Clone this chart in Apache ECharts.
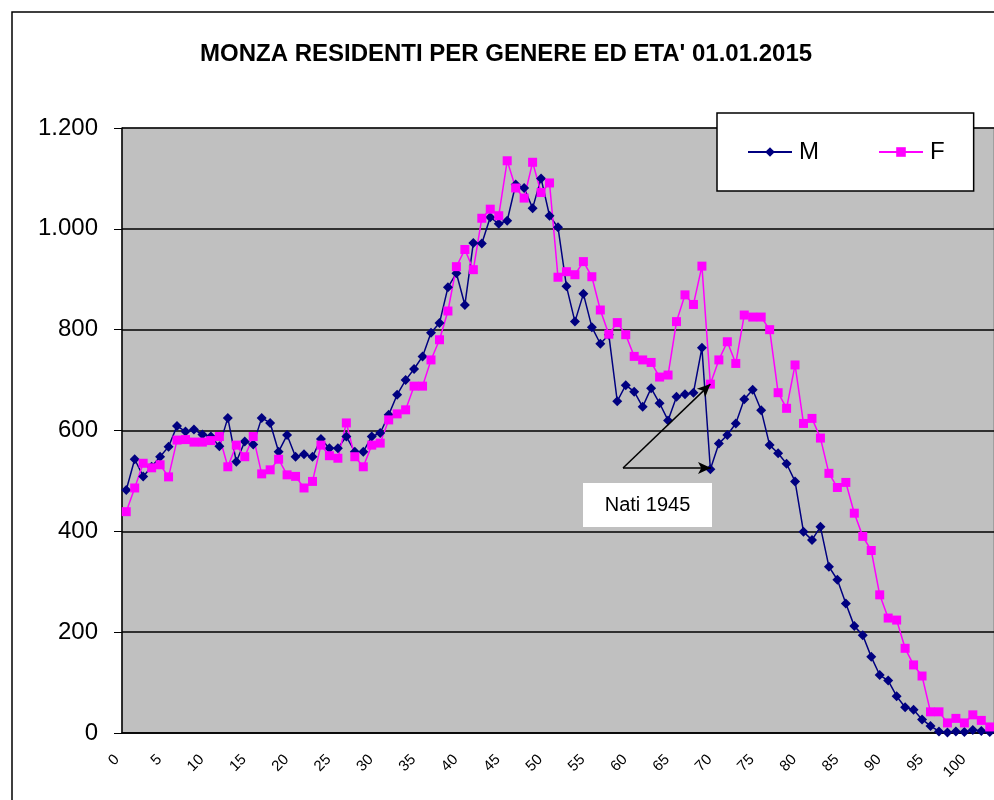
<!DOCTYPE html>
<html>
<head>
<meta charset="utf-8">
<script src="https://cdn.jsdelivr.net/npm/echarts@6/dist/echarts.min.js"></script>
<style>
  html, body { margin: 0; padding: 0; background: #fff; }
  #chart { width: 994px; height: 800px; }
</style>
</head>
<body>
<div id="chart"></div>
<script>
// eta' 0..102
const ages = [];
for (let i = 0; i <= 102; i++) ages.push(String(i));

const maschi = [482, 543, 509, 528, 548, 568, 609, 598, 602, 592,
  588, 569, 625, 538, 578, 572, 625, 615, 558, 591,
  548, 553, 548, 583, 565, 565, 588, 558, 558, 588,
  595, 631, 671, 700, 722, 747, 794, 813, 884, 912,
  849, 972, 971, 1023, 1010, 1016, 1088, 1081, 1041, 1100,
  1026, 1003, 886, 816, 871, 805, 772, 790, 658, 690,
  677, 647, 684, 654, 620, 667, 672, 675, 764, 523,
  574, 591, 614, 662, 681, 640, 571, 555, 534, 499,
  399, 383, 409, 330, 304, 257, 212, 194, 151, 115,
  104, 73, 51, 46, 27, 14, 3, 1, 3, 2,
  6, 4, 2];

const femmine = [439, 486, 535, 526, 532, 508, 581, 582, 577, 577,
  580, 588, 528, 571, 548, 588, 514, 522, 543, 512,
  509, 486, 499, 571, 550, 545, 615, 548, 528, 571,
  575, 621, 633, 641, 688, 688, 740, 780, 837, 925,
  959, 919, 1021, 1039, 1026, 1135, 1081, 1061, 1132, 1072,
  1091, 904, 915, 909, 935, 905, 839, 791, 814, 790,
  747, 740, 735, 706, 710, 816, 869, 850, 926, 692,
  740, 776, 733, 829, 825, 825, 800, 675, 644, 730,
  614, 624, 585, 515, 487, 497, 436, 390, 362, 274,
  228, 224, 168, 135, 113, 42, 42, 20, 29, 20,
  36, 25, 12];

const nati1945 = '69';
const font = 'Liberation Sans, Arial, sans-serif';

function fmtIt(v) {
  return String(v).replace(/\B(?=(\d{3})+(?!\d))/g, '.');
}

const chart = echarts.init(document.getElementById('chart'));
chart.setOption({
  animation: false,
  backgroundColor: '#fff',
  title: {
    text: "MONZA RESIDENTI PER GENERE ED ETA' 01.01.2015",
    left: 195,
    top: 37,
    textStyle: { fontFamily: font, fontSize: 24, fontWeight: 'bold', color: '#000' }
  },
  legend: {
    left: 717,
    top: 113,
    padding: [27, 29, 27, 30],
    itemGap: 59,
    itemWidth: 44,
    itemHeight: 12,
    backgroundColor: '#fff',
    borderColor: '#000',
    borderWidth: 1.5,
    textStyle: { fontFamily: font, fontSize: 24, color: '#000', padding: [0, 0, 0, 2] },
    data: ['M', 'F']
  },
  grid: {
    left: 122,
    top: 128,
    width: 888,
    height: 605,
    show: true,
    backgroundColor: '#c0c0c0',
    borderColor: '#808080',
    borderWidth: 1
  },
  xAxis: {
    type: 'category',
    data: ages,
    boundaryGap: true,
    axisLine: { lineStyle: { color: '#000', width: 1.5 } },
    axisTick: { interval: 0, length: 5, lineStyle: { color: '#000' } },
    axisLabel: {
      interval: 4,
      rotate: 45,
      margin: 15,
      padding: [0, 13, 0, 0],
      fontFamily: font,
      fontSize: 15,
      color: '#000'
    },
    splitLine: { show: false }
  },
  yAxis: {
    type: 'value',
    min: 0,
    max: 1200,
    interval: 200,
    axisLine: { show: true, lineStyle: { color: '#000', width: 1.5 } },
    axisTick: { show: true, length: 8, lineStyle: { color: '#000' } },
    axisLabel: {
      margin: 24,
      fontFamily: font,
      fontSize: 24,
      color: '#000',
      formatter: fmtIt
    },
    splitLine: { lineStyle: { color: '#000', width: 1.5 } }
  },
  series: [
    {
      name: 'M',
      type: 'line',
      data: maschi,
      symbol: 'diamond',
      symbolSize: 10,
      showAllSymbol: true,
      itemStyle: { color: '#000080' },
      lineStyle: { color: '#000080', width: 1.5 },
      markLine: {
        silent: true,
        symbol: ['none', 'arrow'],
        symbolSize: [9, 13],
        label: { show: false },
        lineStyle: { color: '#000', width: 1.5, type: 'solid' },
        data: [
          [{ x: 623, y: 468 }, { x: 711, y: 468 }],
          [{ x: 623, y: 468 }, { coord: [nati1945, femmine[69]] }]
        ]
      }
    },
    {
      name: 'F',
      type: 'line',
      data: femmine,
      symbol: 'rect',
      symbolSize: 9,
      showAllSymbol: true,
      itemStyle: { color: '#ff00ff' },
      lineStyle: { color: '#ff00ff', width: 1.5 }
    }
  ],
  graphic: [
    {
      type: 'rect',
      shape: { x: 12, y: 12, width: 1000, height: 800 },
      style: { fill: 'none', stroke: '#000', lineWidth: 1.5 },
      z: 100
    },
    {
      type: 'group',
      left: 583,
      top: 483,
      children: [
        {
          type: 'rect',
          shape: { x: 0, y: 0, width: 129, height: 44 },
          style: { fill: '#fff', stroke: 'none' }
        },
        {
          type: 'text',
          x: 64.5,
          y: 22,
          style: {
            text: 'Nati 1945',
            fontFamily: font,
            fontSize: 20,
            fill: '#000',
            align: 'center',
            verticalAlign: 'middle'
          }
        }
      ]
    }
  ]
});
</script>
</body>
</html>
